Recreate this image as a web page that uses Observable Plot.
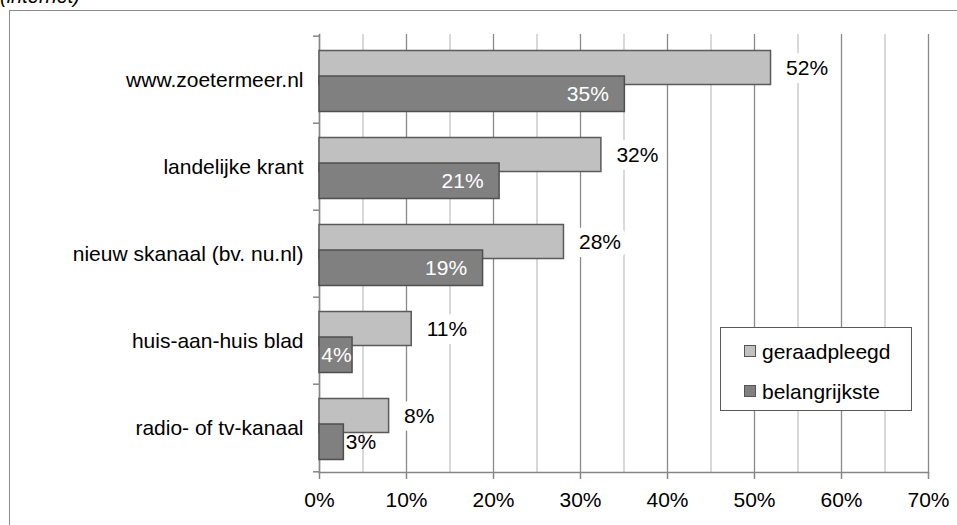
<!DOCTYPE html>
<html>
<head>
<meta charset="utf-8">
<script src="https://cdn.jsdelivr.net/npm/d3@7"></script>
<script src="https://cdn.jsdelivr.net/npm/@observablehq/plot@0.6"></script>
<style>
  body { margin: 0; background: #fff; font-family: "Liberation Sans", Arial, sans-serif; }
  #wrap { position: relative; width: 957px; height: 525px; overflow: hidden; background: #fff; }
  #wrap svg { position: absolute; left: 0; top: 0; }
  #title { position: absolute; left: 0; top: -15px; font-style: italic; font-size: 20px; color: #000; white-space: nowrap; }
  #frame { position: absolute; left: 9px; top: 10px; width: 980px; height: 540px; border: 1.5px solid #8c8c8c; box-sizing: border-box; pointer-events: none; }
  #legend { position: absolute; left: 720px; top: 327px; width: 192px; height: 84px; border: 1.5px solid #595959; background: #fff; box-sizing: border-box; font-size: 21px; color: #000; }
  #legend .item { position: absolute; left: 23px; height: 24px; line-height: 24px; white-space: nowrap; }
  #legend .sw { display: inline-block; width: 10px; height: 10px; border: 1px solid #555; vertical-align: middle; margin-right: 6px; position: relative; top: -2px; }
</style>
</head>
<body>
<div id="wrap">
  <div id="title">(internet)</div>
  <div id="chart"></div>
  <div id="legend"></div>
  <div id="frame"></div>
</div>
<script>
// ---- data ----
const categories = ["www.zoetermeer.nl", "landelijke krant", "nieuw skanaal (bv. nu.nl)", "huis-aan-huis blad", "radio- of tv-kanaal"];
const seriesNames = ["geraadpleegd", "belangrijkste"];
const geraadpleegd = [51.9, 32.4, 28.1, 10.6, 8.0];
const belangrijkste = [35.1, 20.7, 18.8, 3.8, 2.8];
const majorTicks = [0, 10, 20, 30, 40, 50, 60, 70];
const minorTicks = [5, 15, 25, 35, 45, 55, 65];
const seriesColors = ["#c0c0c0", "#808080"];

// ---- build ----
const rows = categories.map((c, i) => ({cat: c, g: geraadpleegd[i], b: belangrijkste[i]}));
const fmt = v => Math.round(v) + "%";
const W = 957, H = 525, mT = 34, mB = 53;
const bw = (H - mT - mB) / categories.length;
const FS = 21;

const chart = Plot.plot({
  width: W, height: H,
  marginLeft: 319, marginRight: 29, marginTop: mT, marginBottom: mB,
  style: {background: "transparent", fontFamily: "'Liberation Sans', Arial, sans-serif", fontSize: FS + "px", color: "#000", overflow: "visible"},
  x: {domain: [0, 70]},
  y: {domain: categories, padding: 0},
  marks: [
    Plot.ruleX(minorTicks, {stroke: "#c4c4c4", strokeWidth: 1.3}),
    Plot.ruleX(majorTicks, {stroke: "#8a8a8a", strokeWidth: 1.3}),
    Plot.frame({anchor: "left", stroke: "#868686", strokeWidth: 1.5}),
    Plot.frame({anchor: "bottom", stroke: "#868686", strokeWidth: 1.5}),
    // light labels with white background (halo)
    Plot.text(rows, {x: "g", y: "cat", text: d => fmt(d.g), dx: 15, dy: -12, textAnchor: "start",
      fill: "#000", stroke: "white", strokeWidth: 16, paintOrder: "stroke", fontSize: FS}),
    Plot.barX(rows, {x: "g", y: "cat", fill: seriesColors[0], stroke: "#5a5a5a", strokeWidth: 1.5, insetTop: 14.5, insetBottom: 38.5}),
    Plot.barX(rows, {x: "b", y: "cat", fill: seriesColors[1], stroke: "#4f4f4f", strokeWidth: 1.5, insetTop: 40, insetBottom: 11.5}),
    // dark labels
    Plot.text(rows.filter(d => d.b >= 10), {x: "b", y: "cat", text: d => fmt(d.b), dx: -16, dy: 14, textAnchor: "end", fill: "#fff", fontSize: FS}),
    Plot.text(rows.filter(d => d.b >= 3.5 && d.b < 10), {x: "b", y: "cat", text: d => fmt(d.b), dx: -1, dy: 14, textAnchor: "end", fill: "#fff", fontSize: FS}),
    Plot.text(rows.filter(d => d.b < 3.5), {x: "b", y: "cat", text: d => fmt(d.b), dx: 2, dy: 14, textAnchor: "start", fill: "#000", fontSize: FS}),
    // axes
    Plot.axisX({ticks: majorTicks, tickFormat: d => d + "%", tickSize: 7, tickPadding: 13, stroke: "#868686", strokeWidth: 1.5, fill: "#000", fontSize: FS, label: null}),
    Plot.axisY({ticks: categories, tickSize: 6, dy: -bw / 2, text: null, stroke: "#868686", strokeWidth: 1.5, label: null}),
    Plot.axisY({ticks: [categories[categories.length - 1]], tickSize: 6, dy: bw / 2, text: null, stroke: "#868686", strokeWidth: 1.5, label: null}),
    Plot.axisY({ticks: categories, tickSize: 0, tickPadding: 16, fill: "#000", fontSize: FS, label: null})
  ]
});
document.getElementById("chart").appendChild(chart);

// ---- legend ----
const legend = document.getElementById("legend");
seriesNames.forEach((name, i) => {
  const item = document.createElement("div");
  item.className = "item";
  item.style.top = (12 + i * 40) + "px";
  const sw = document.createElement("span");
  sw.className = "sw";
  sw.style.background = seriesColors[i];
  item.appendChild(sw);
  item.appendChild(document.createTextNode(name));
  legend.appendChild(item);
});
</script>
</body>
</html>
